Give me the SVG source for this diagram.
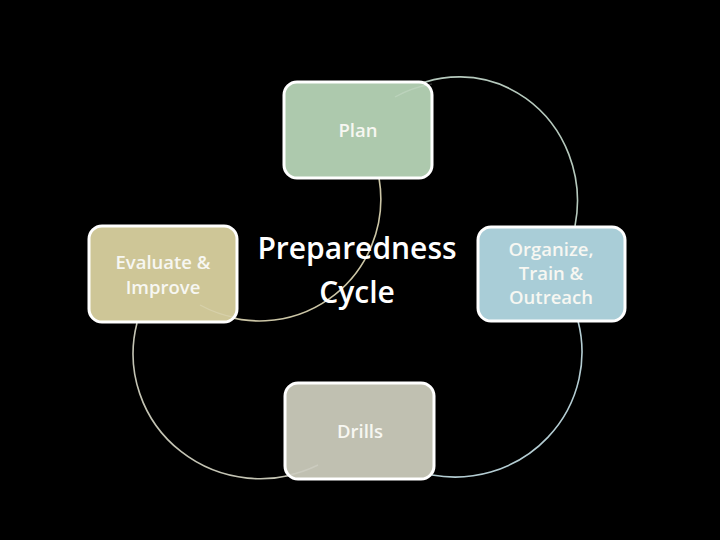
<svg xmlns="http://www.w3.org/2000/svg" width="720" height="540" viewBox="0 0 720 540">
<style>
.box{stroke:#ffffff;stroke-width:3}
.arc{fill:none;stroke-width:1.6}
.ghost{fill:none;stroke-width:1.4;stroke-opacity:0.18}
.lbl{font-family:"Open Sans","Liberation Sans",sans-serif;font-size:18.5px;font-weight:600;fill:#f7f7f2;text-anchor:middle}
.title{font-family:"Open Sans","Liberation Sans",sans-serif;font-size:30px;font-weight:600;fill:#ffffff;text-anchor:middle}
</style>
<rect width="720" height="540" fill="#000000"/>
<g id="connectors">
<path class="arc" d="M395,97 A118,124 0 0,1 575,226" stroke="#b6c9bd"/>
<path class="arc" d="M578,321 A127,125 0 0,1 432,475" stroke="#b4cdd3"/>
<path class="arc" d="M318,465 A127,125 0 0,1 137,323" stroke="#c4c4b4"/>
<path class="arc" d="M379,178 A121,122 0 0,1 200,305" stroke="#ccc6a6"/>
</g>
<g id="plan">
<rect class="box" x="284" y="82" width="148" height="96" rx="13" fill="#adc9ad"/>
<text class="lbl" x="358" y="137">Plan</text>
</g>
<g id="organize">
<rect class="box" x="478" y="227" width="147" height="94" rx="13" fill="#a9cdd7"/>
<text class="lbl" x="551" y="256">Organize,</text>
<text class="lbl" x="551" y="280">Train &amp;</text>
<text class="lbl" x="551" y="304">Outreach</text>
</g>
<g id="drills">
<rect class="box" x="285" y="383" width="149" height="96" rx="13" fill="#c0c0b1"/>
<text class="lbl" x="360" y="438">Drills</text>
</g>
<g id="evaluate">
<rect class="box" x="89" y="226" width="148" height="96" rx="13" fill="#cec697"/>
<text class="lbl" x="163" y="269">Evaluate &amp;</text>
<text class="lbl" x="163" y="294">Improve</text>
</g>
<g id="connector-traces">
<path class="ghost" d="M395,97 A118,124 0 0,1 432,84" stroke="#ffffff"/>
<path class="ghost" d="M318,465 A127,125 0 0,1 285,476" stroke="#ffffff"/>
<path class="ghost" d="M237,318 A121,122 0 0,1 200,305" stroke="#ffffff"/>
</g>
<g id="center">
<text class="title" x="357" y="259">Preparedness</text>
<text class="title" x="357" y="303">Cycle</text>
</g>
</svg>
